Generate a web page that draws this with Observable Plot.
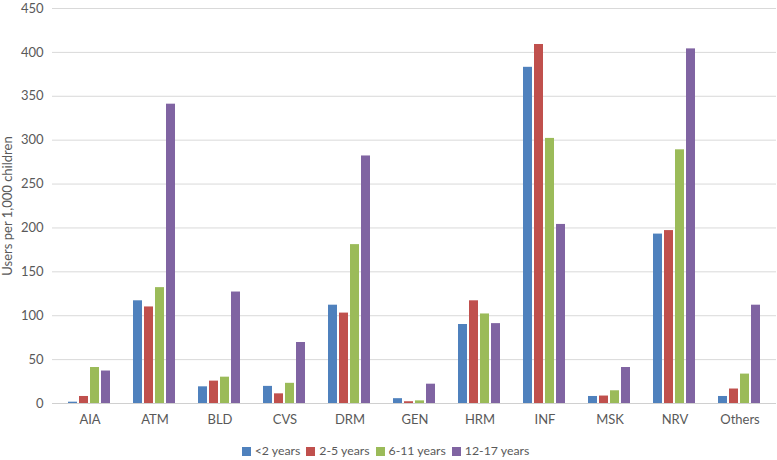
<!DOCTYPE html>
<html><head><meta charset="utf-8">
<script src="https://cdn.jsdelivr.net/npm/d3@7"></script>
<script src="https://cdn.jsdelivr.net/npm/@observablehq/plot@0.6"></script>
<style>
body{margin:0;background:#fff;font-family:Lato,sans-serif;}
#chart{position:relative;width:777px;height:435px;}
#chart svg{position:absolute;left:0;top:0;}
#legend{display:flex;justify-content:center;gap:6px;font-size:12.3px;color:#595959;margin-top:8px;line-height:16px;padding-right:6px;}
#legend .item{display:flex;align-items:center;}
#legend .sw{display:inline-block;width:9px;height:9px;margin-right:4px;}
</style></head><body>
<div id="chart"></div><div id="legend"></div>
<script>
const categories = ["AIA","ATM","BLD","CVS","DRM","GEN","HRM","INF","MSK","NRV","Others"];
const series = ["<2 years","2-5 years","6-11 years","12-17 years"];
const colors = ["#4f81bd","#c0504d","#9bbb59","#8064a2"];
const under2    = [1.5, 117, 19, 19.5, 112, 5.5, 90, 383, 8, 193, 8];
const age2to5   = [8, 110, 25.5, 11, 103, 2, 117, 409, 8.5, 197, 16.5];
const age6to11  = [41, 132, 30, 23, 181, 3, 102, 302, 14.5, 289, 33.5];
const age12to17 = [37, 341, 127, 69.5, 282, 22, 91, 204, 41, 404, 112];
const yTicks = [0,50,100,150,200,250,300,350,400,450];

const values = [under2, age2to5, age6to11, age12to17];
const data = categories.flatMap((c,i)=>series.map((s,j)=>({category:c, series:s, value:values[j][i]})));

const W=777, H=435;
const margins = {marginTop:8, marginRight:1, marginBottom:32, marginLeft:52};
const baseStyle = {fontFamily:"Lato, sans-serif", fontSize:"13px", color:"#595959", background:"transparent", overflow:"visible"};

const bg = Plot.plot({
  width:W, height:H, ...margins, style:baseStyle,
  x:{type:"band", domain:categories, padding:0},
  y:{domain:[0,450]},
  marks:[
    Plot.gridY(yTicks,{stroke:"#d9d9d9", strokeOpacity:1}),
    Plot.ruleY([0],{stroke:"#d0d0d0"}),
    Plot.axisY(yTicks,{tickSize:0, tickPadding:9, label:"Users per 1,000 children", labelArrow:"none", labelAnchor:"center", labelOffset:50}),
    Plot.axisX({tickSize:0, tickPadding:11, label:null})
  ]
});

const fg = Plot.plot({
  width:W, height:H, ...margins, style:baseStyle,
  fx:{domain:categories, paddingInner:0.305, paddingOuter:0.1525, axis:null, label:null},
  x:{domain:series, paddingInner:0.19, paddingOuter:0, axis:null},
  y:{domain:[0,450], axis:null},
  color:{domain:series, range:colors},
  marks:[
    Plot.barY(data,{fx:"category", x:"series", y:"value", fill:"series"})
  ]
});

const chart = document.getElementById("chart");
chart.appendChild(bg);
chart.appendChild(fg);

const legend = document.getElementById("legend");
series.forEach((s,i)=>{
  const it = document.createElement("div"); it.className="item";
  const sw = document.createElement("span"); sw.className="sw"; sw.style.background=colors[i];
  it.appendChild(sw); it.appendChild(document.createTextNode(s));
  legend.appendChild(it);
});
</script>
</body></html>
